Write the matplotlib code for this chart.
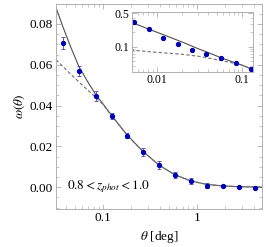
import numpy as np
import matplotlib
matplotlib.use('Agg')
import matplotlib.pyplot as plt
from matplotlib.ticker import FixedLocator, NullFormatter

plt.rcParams['font.family'] = ['Liberation Serif', 'DejaVu Serif']
plt.rcParams['mathtext.fontset'] = 'stix'

# measured correlation function
theta = [0.0054, 0.0081, 0.0119, 0.0176, 0.0261, 0.0378, 0.0557, 0.0835, 0.125,
         0.180, 0.267, 0.394, 0.583, 0.863, 1.28, 1.89, 2.80, 4.14]
w_obs = [0.324, 0.234, 0.150, 0.112, 0.0853, 0.0708, 0.0569, 0.0448, 0.0347,
         0.0253, 0.0171, 0.0108, 0.0060, 0.0031, 0.0008, 0.0006, 0.0002, -0.0002]
w_err = [0.006, 0.004, 0.003, 0.003, 0.0028, 0.003, 0.0025, 0.0024, 0.0015,
         0.0013, 0.002, 0.0018, 0.0014, 0.0014, 0.0012, 0.0006, 0.0005, 0.0004]

# model curves
model_theta = [0.005, 0.0079, 0.0126, 0.02, 0.0316, 0.0375, 0.045, 0.0555, 0.068,
               0.084, 0.1, 0.125, 0.18, 0.267, 0.394, 0.583, 0.863, 1.28, 1.89,
               2.8, 4.14, 5.0]
model_w = [0.325, 0.236, 0.171, 0.124, 0.0880, 0.0785, 0.069, 0.0590, 0.0520,
           0.0452, 0.0408, 0.0348, 0.0256, 0.0174, 0.0108, 0.0060, 0.0030,
           0.0013, 0.0006, 0.0002, 0.0001, 0.0]
lin_theta = [0.005, 0.01, 0.02, 0.0316, 0.045, 0.0555, 0.068, 0.08, 0.1, 0.125,
             0.18, 0.267, 0.394, 0.583, 0.863, 1.28, 1.89, 2.8, 4.14, 5.0]
lin_w = [0.085, 0.076, 0.069, 0.0625, 0.0555, 0.0515, 0.0478, 0.0448, 0.0405,
         0.0346, 0.0255, 0.0174, 0.0108, 0.0060, 0.0030, 0.0013, 0.0006,
         0.0002, 0.0001, 0.0]

label_text = r'$0.8 < z_{phot} < 1.0$'

fig = plt.figure(figsize=(2.66, 2.47), dpi=100)
ax = fig.add_axes([0.2105, 0.154, 0.7745, 0.830])

spine_col = '#b0b0b0'
pt_col = '#0000b4'
err_col = '#4040d0'


def style(a, size):
    for s in a.spines.values():
        s.set_color(spine_col)
        s.set_linewidth(0.7)
    a.tick_params(which='both', direction='in', top=True, right=True,
                  color=spine_col, labelsize=size, pad=2)
    a.tick_params(which='major', length=3.5, width=0.6)
    a.tick_params(which='minor', length=2, width=0.5)


ax.plot(model_theta, model_w, color='#505050', lw=0.8, zorder=2)
ax.plot(lin_theta, lin_w, color='#707070', lw=0.8, ls=(0, (3, 2)), zorder=2)
ax.errorbar(theta, w_obs, yerr=w_err, fmt='o', ms=2.8, color=pt_col,
            ecolor=err_col, elinewidth=0.6, capsize=1.3, capthick=0.6, zorder=3)
ax.set_xscale('log')
ax.set_xlim(0.0316, 4.9)
ax.set_ylim(-0.0107, 0.0898)
ax.set_xticks([0.1, 1])
ax.set_xticklabels(['0.1', '1'])
ax.set_yticks([0.0, 0.02, 0.04, 0.06, 0.08])
ax.set_yticklabels(['0.00', '0.02', '0.04', '0.06', '0.08'])
ax.yaxis.set_minor_locator(FixedLocator(np.arange(-0.01, 0.09, 0.005)))
style(ax, 9.5)
ax.set_xlabel(r'$\theta$ [deg]', fontsize=9.5, labelpad=4)
ax.set_ylabel(r'$\omega(\theta)$', fontsize=9.5, labelpad=2)
ax.text(0.0414, 0.0, label_text, fontsize=9.5, va='center', ha='left')

# inset
axin = fig.add_axes([0.495, 0.710, 0.456, 0.243])
axin.plot(model_theta, model_w, color='#505050', lw=0.8)
axin.plot(lin_theta, lin_w, color='#707070', lw=0.8, ls=(0, (3, 2)))
axin.plot(theta, w_obs, 'o', ms=2.8, color=pt_col)
axin.set_xscale('log')
axin.set_yscale('log')
axin.set_xlim(0.0051, 0.133)
axin.set_ylim(0.030, 0.54)
axin.set_xticks([0.01, 0.1])
axin.set_xticklabels(['0.01', '0.1'])
axin.set_yticks([0.1, 0.5])
axin.set_yticklabels(['0.1', '0.5'])
axin.yaxis.set_minor_formatter(NullFormatter())
axin.xaxis.set_minor_formatter(NullFormatter())
style(axin, 8.5)

fig.savefig('out.png', dpi=100)
